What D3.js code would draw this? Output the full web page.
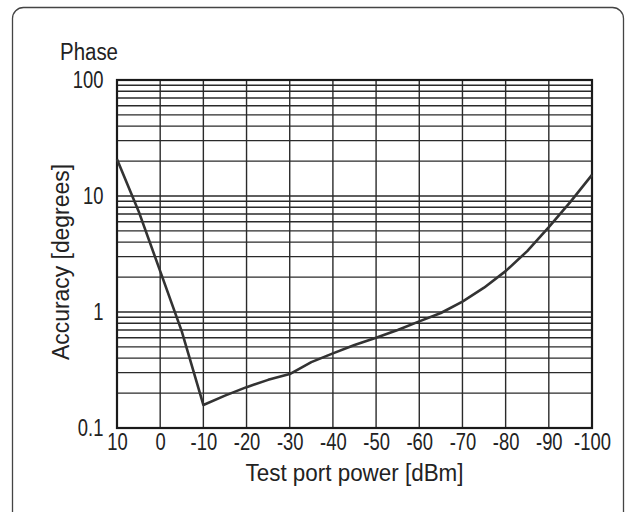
<!DOCTYPE html>
<html>
<head>
<meta charset="utf-8">
<script src="https://cdn.jsdelivr.net/npm/d3@7"></script>
<style>
  body { margin: 0; background: #fff; }
  text { font-family: "Liberation Sans", Arial, sans-serif; fill: #222; }
</style>
</head>
<body>
<div id="chart"></div>
<script>
/* Phase accuracy vs test port power */

const powers = [10, 5, 0, -5, -10, -15, -20, -25, -30, -35, -40, -45, -50, -55, -60, -65, -70, -75, -80, -85, -90, -95, -100];
const accuracy = [20.7, 7.4, 2.25, 0.68, 0.158, 0.19, 0.225, 0.26, 0.292, 0.37, 0.44, 0.52, 0.6, 0.7, 0.83, 0.98, 1.23, 1.62, 2.25, 3.35, 5.4, 8.9, 15.2];
const xTicks = [10, 0, -10, -20, -30, -40, -50, -60, -70, -80, -90, -100];
const yLabels = [0.1, 1, 10, 100];

const data = powers.map((p, i) => ({p: p, a: accuracy[i]}));

const width = 625,
    height = 512,
    margin = ({top: 80, right: 33, bottom: 84, left: 117});

const squeeze = 0.8;   // the original type is a condensed face

let svg = d3.select("#chart")
    .append("svg")
    .attr("width", width)
    .attr("height", height);

// outer frame, runs off the bottom of the picture
svg.append("rect")
    .attr("x", 12.5).attr("y", 7.5)
    .attr("width", 611).attr("height", 530)
    .attr("rx", 11)
    .attr("fill", "none")
    .attr("stroke", "#444")
    .attr("stroke-width", 1.3);

let x = d3.scaleLinear()
    .domain([10, -100])
    .range([margin.left, width - margin.right]);

let y = d3.scaleLog()
    .domain([0.1, 100])
    .range([height - margin.bottom, margin.top]);

// horizontal grid at every 1..9 step of each decade
svg.append("g")
    .selectAll("line")
    .data(y.ticks())
    .join("line")
    .attr("x1", x(10)).attr("x2", x(-100))
    .attr("y1", d => y(d)).attr("y2", d => y(d))
    .attr("stroke", "#2a2a2a")
    .attr("stroke-width", 1.4);

// vertical grid
svg.append("g")
    .selectAll("line")
    .data(xTicks)
    .join("line")
    .attr("x1", d => x(d)).attr("x2", d => x(d))
    .attr("y1", y(0.1)).attr("y2", y(100))
    .attr("stroke", "#2a2a2a")
    .attr("stroke-width", 1.4);

// plot frame
svg.append("rect")
    .attr("x", x(10)).attr("y", y(100))
    .attr("width", x(-100) - x(10))
    .attr("height", y(0.1) - y(100))
    .attr("fill", "none")
    .attr("stroke", "#1a1a1a")
    .attr("stroke-width", 2.2);

const xAxis = g => g
    .attr("transform", `translate(0,${height - margin.bottom})`)
    .call(d3.axisBottom(x).tickValues(xTicks).tickSize(0).tickPadding(6).tickFormat(d => d))
    .call(g => g.select(".domain").remove());

const yAxis = g => g
    .attr("transform", `translate(${margin.left}, 0)`)
    .call(d3.axisLeft(y).tickValues(yLabels).tickSize(0).tickPadding(17).tickFormat(d => d))
    .call(g => g.select(".domain").remove());

svg.append("g").call(xAxis)
    .selectAll("text")
    .attr("font-size", 23).attr("font-family", null).attr("fill", "#222")
    .attr("transform", `scale(${squeeze},1)`);

svg.append("g").call(yAxis)
    .selectAll("text")
    .attr("font-size", 23).attr("font-family", null).attr("fill", "#222")
    .attr("transform", `scale(${squeeze},1)`);

svg.selectAll(".tick line").remove();

// curve
let line = d3.line()
    .x(d => x(d.p))
    .y(d => y(d.a));

svg.append("path")
    .datum(data)
    .attr("d", line)
    .attr("fill", "none")
    .attr("stroke", "#333")
    .attr("stroke-width", 2.6)
    .attr("stroke-linejoin", "round");

// titles
svg.append("text")
    .attr("x", 60).attr("y", 60)
    .attr("font-size", 23)
    .attr("textLength", 58).attr("lengthAdjust", "spacingAndGlyphs")
    .text("Phase");

svg.append("text")
    .attr("x", (x(10) + x(-100)) / 2).attr("y", 481)
    .attr("text-anchor", "middle")
    .attr("font-size", 23)
    .attr("textLength", 218).attr("lengthAdjust", "spacingAndGlyphs")
    .text("Test port power [dBm]");

svg.append("text")
    .attr("transform", "translate(69,262) rotate(-90)")
    .attr("text-anchor", "middle")
    .attr("font-size", 23)
    .attr("textLength", 196).attr("lengthAdjust", "spacingAndGlyphs")
    .text("Accuracy [degrees]");
</script>
</body>
</html>
